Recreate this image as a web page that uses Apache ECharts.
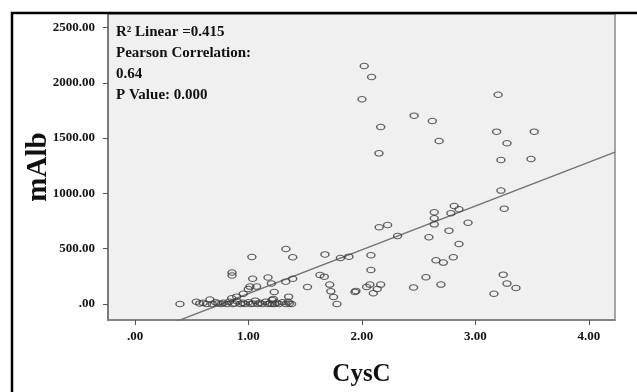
<!DOCTYPE html>
<html><head><meta charset="utf-8">
<script src="https://cdn.jsdelivr.net/npm/echarts@6/dist/echarts.min.js"></script>
<style>html,body{margin:0;padding:0;background:#fff}#c{width:637px;height:392px}</style>
</head><body><div id="c"></div>
<script>
// Data: CysC (x) vs mAlb (y)
var upperPoints = [
  [2.02,2152],[2.085,2052],[2.00,1851],[2.46,1703],[2.62,1655],[2.165,1600],[2.68,1474],[2.15,1362],
  [3.20,1892],[3.187,1558],[3.518,1558],[3.278,1453],[3.225,1302],[3.49,1311],[3.225,1025],[3.254,862]
];
var midPoints = [
  [3.245,265],[3.278,184],[3.357,145],[3.163,93],
  [2.813,886],[2.855,856],[2.784,820],[2.637,829],[2.637,775],[2.637,720],[2.935,735],[2.767,663],
  [2.59,603],[2.855,542],[2.314,615],[2.152,693],[2.226,714],[2.805,422],[2.652,395],[2.717,374],
  [1.885,428],[1.81,415],[2.079,440],[2.079,307],[2.564,241],[2.696,175],[2.455,149],[2.165,175],
  [2.07,175],[2.041,154],[2.135,136],[2.10,97],[1.938,108],[1.947,118]
];
var lowerPoints = [
  [1.33,497],[1.03,425],[1.39,422],[1.674,448],[0.855,285],[0.855,258],[1.037,228],[1.172,240],
  [1.39,228],[1.328,202],[1.202,186],[1.013,157],[1.072,157],[0.998,136],[1.63,262],[1.668,247],
  [1.52,154],[1.716,175],[1.726,114],[1.75,63],[1.78,0],[1.227,108],[1.354,66],[1.219,45],
  [0.954,92],[0.896,66],[0.852,52],[1.207,36]
];
var baselinePoints = [
  [0.396,0],[0.54,20],[0.57,5],[0.60,10],[0.63,0],[0.66,40],[0.68,0],[0.71,15],[0.73,5],[0.76,0],
  [0.78,10],[0.81,0],[0.83,20],[0.86,0],[0.88,5],[0.90,25],[0.93,0],[0.95,10],[0.97,0],[1.00,15],
  [1.02,0],[1.04,5],[1.06,30],[1.08,0],[1.10,10],[1.12,0],[1.15,20],[1.17,0],[1.19,5],[1.21,0],
  [1.23,0],[1.25,10],[1.27,0],[1.30,15],[1.33,0],[1.35,20],[1.38,0],[1.36,5]
];
var fitSlope = 396, fitIntercept = -302;
var xTicks = [0,1,2,3,4];
var yTicks = [0,500,1000,1500,2000,2500];
var xRange = [-0.238, 4.23];
var yRange = [-145, 2622];
var annotationLines = ['R\u00B2 Linear =0.415','Pearson Correlation:','0.64','P Value: 0.000'];
var xTitle = 'CysC', yTitle = 'mAlb';

var allPoints = upperPoints.concat(midPoints, lowerPoints, baselinePoints);
var fitLine = [[xRange[0], fitSlope*xRange[0]+fitIntercept],[xRange[1], fitSlope*xRange[1]+fitIntercept]];
function fmt(v){ var s=v.toFixed(2); return s.charAt(0)==='0' ? s.substring(1) : s; }
var labelFont = {fontFamily:'Liberation Serif', fontWeight:'bold', fontSize:13, color:'#111'};

var chart = echarts.init(document.getElementById('c'), null, {renderer:'canvas'});
chart.setOption({
  animation:false,
  backgroundColor:'#fff',
  grid:{left:108, top:14, right:22, bottom:72, show:true, backgroundColor:'#f0f0f0', borderColor:'#8a8a8a', borderWidth:1.5},
  xAxis:{type:'value', min:xRange[0], max:xRange[1], splitLine:{show:false},
    name:xTitle, nameLocation:'middle', nameGap:42,
    nameTextStyle:{fontFamily:'Liberation Serif', fontWeight:'bold', fontSize:25, color:'#111'},
    axisLine:{show:true, onZero:false, lineStyle:{color:'#7a7a7a', width:1.5}},
    axisTick:{show:true, length:5, customValues:xTicks, lineStyle:{color:'#555'}},
    axisLabel:Object.assign({customValues:xTicks, margin:10, formatter:fmt}, labelFont)},
  yAxis:{type:'value', min:yRange[0], max:yRange[1], splitLine:{show:false},
    name:yTitle, nameLocation:'middle', nameGap:55, nameRotate:90, nameMoveOverlap:false,
    nameTextStyle:{fontFamily:'Liberation Serif', fontWeight:'bold', fontSize:29, color:'#111'},
    axisLine:{show:true, onZero:false, lineStyle:{color:'#7a7a7a', width:2}},
    axisTick:{show:true, length:5, customValues:yTicks, lineStyle:{color:'#555'}},
    axisLabel:Object.assign({customValues:yTicks, margin:13, formatter:fmt}, labelFont)},
  series:[
    {type:'line', data:fitLine, symbol:'none', clip:true, silent:true,
      lineStyle:{color:'#737373', width:1.4}, z:2},
    {type:'scatter', data:allPoints, symbol:'circle', symbolSize:[8,5.5], z:3,
      itemStyle:{color:'rgba(0,0,0,0)', borderColor:'#3a3a3a', borderWidth:1.2}}
  ],
  graphic:[
    {type:'rect', shape:{x:12, y:13, width:700, height:500}, style:{fill:null, stroke:'#000', lineWidth:2.5}, z:100},
    {type:'text', left:116, top:22, style:{text:annotationLines.join('\n'), fontFamily:'Liberation Serif', fontWeight:'bold', fontSize:15, lineHeight:21, fill:'#111'}, z:100}
  ]
});
</script></body></html>
